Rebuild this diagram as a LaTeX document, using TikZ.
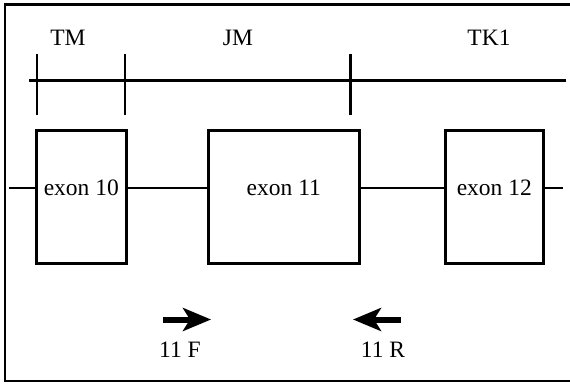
\documentclass[tikz,border=0pt]{standalone}
\usepackage{fontspec}
\setmainfont{Liberation Serif}
\usetikzlibrary{arrows.meta}
\begin{document}
\begin{tikzpicture}[x=1pt,y=-1pt,
  line/.style={line width=2.6pt},
  exonbox/.style={draw,line width=2.6pt,minimum width=#1,minimum height=133pt,inner sep=0pt,anchor=north west},
  lbl/.style={font=\fontsize{23.5}{27}\selectfont,inner sep=0pt},
  primer/.style={line width=6pt,-{Stealth[length=28pt,width=23pt,inset=7pt]}}]
\useasboundingbox (0,0) rectangle (570,383);
% frame, open on the right
\draw[line width=2.4pt] (570,4.5) -- (5,4.5) -- (5,381) -- (570,381);
% protein domain ruler
\coordinate (rl) at (29,80.5);
\coordinate (rr) at (566,80.5);
\draw[line] (rl) -- (rr);
\draw[line] (37,54) -- (37,115);
\draw[line] (125,54) -- (125,115);
\draw[line] (350.5,54) -- (350.5,115);
\node[lbl] (tm) at (68,38) {TM};
\node[lbl] (jm) at (238,38) {JM};
\node[lbl] (tk) at (489,38) {TK1};
% exons
\node[exonbox=90pt] (e10) at (35,129) {};
\node[exonbox=151pt] (e11) at (207,129) {};
\node[exonbox=98pt] (e12) at (444,129) {};
\coordinate (gl) at (9,188);
\coordinate (gr) at (563,188);
\node[lbl] (t10) at (e10 |- gl) {exon 10};
\node[lbl] (t11) at (e11 |- gl) {exon 11};
\node[lbl] (t12) at (e12 |- gl) {exon 12};
% introns
\draw[line] (gl) -- (gl -| e10.west);
\draw[line] (gl -| e10.east) -- (gl -| e11.west);
\draw[line] (gl -| e11.east) -- (gl -| e12.west);
\draw[line] (gl -| e12.east) -- (gr);
% primers
\coordinate (fa) at (163,319.5);
\coordinate (fb) at (211,319.5);
\coordinate (ra) at (401,319.5);
\coordinate (rb) at (353,319.5);
\draw[primer] (fa) -- (fb);
\draw[primer] (ra) -- (rb);
\node[lbl] (f) at (180,350) {11 F};
\node[lbl] (r) at (383,350) {11 R};
\end{tikzpicture}
\end{document}
